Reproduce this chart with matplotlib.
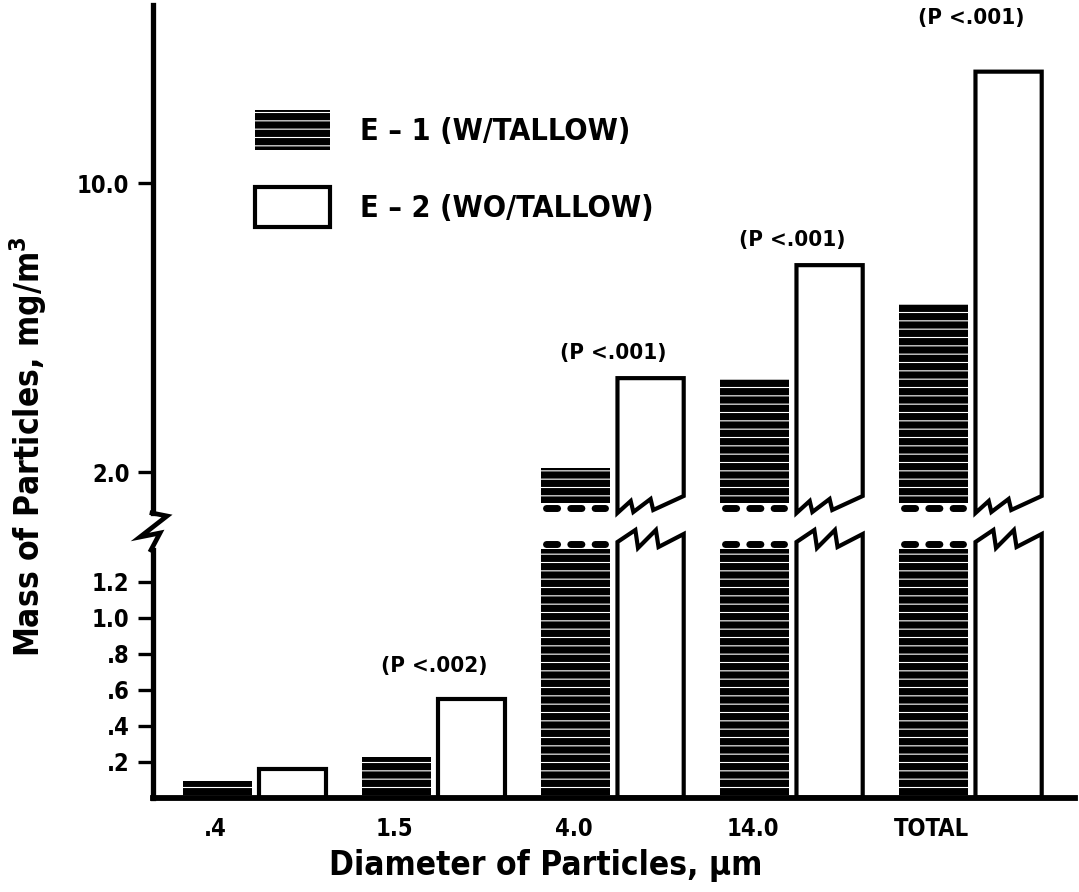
import matplotlib
matplotlib.use('Agg')
import matplotlib.pyplot as plt
from matplotlib.patches import Patch, Polygon
from matplotlib.lines import Line2D
from matplotlib import font_manager as fm

# ---------------- data ----------------
categories = ['.4', '1.5', '4.0', '14.0', 'TOTAL']
e1_values = [0.093, 0.223, 2.10, 4.58, 6.65]     # E-1 (W/TALLOW)
e2_values = [0.158, 0.545, 4.60, 7.73, 13.09]    # E-2 (WO/TALLOW)
p_labels = [None, '(P <.002)', '(P <.001)', '(P <.001)', '(P <.001)']
lower_ticks = [0.2, 0.4, 0.6, 0.8, 1.0, 1.2]
lower_ticklabels = ['.2', '.4', '.6', '.8', '1.0', '1.2']
upper_ticks = [2.0, 10.0]
upper_ticklabels = ['2.0', '10.0']
legend_labels = ['E \u2013 1 (W/TALLOW)', 'E \u2013 2 (WO/TALLOW)']

# ---------------- fonts ----------------
names = {f.name for f in fm.fontManager.ttflist}
if 'Liberation Sans Narrow' in names:
    FAM = 'Liberation Sans Narrow'
    STRETCH = 'normal'
else:
    FAM = 'DejaVu Sans'
    STRETCH = 'condensed'
plt.rcParams['font.family'] = [FAM, 'DejaVu Sans']
plt.rcParams['font.weight'] = 'bold'
plt.rcParams['font.stretch'] = STRETCH
plt.rcParams['mathtext.fontset'] = 'custom'
plt.rcParams['mathtext.rm'] = FAM + ':bold'
plt.rcParams['mathtext.bf'] = FAM + ':bold'
plt.rcParams['hatch.linewidth'] = 0.8

W, H = 1079, 892
fig = plt.figure(figsize=(W / 100, H / 100), dpi=100)

def fx(px):
    return px / W

def fy(py):
    return 1 - py / H

# pixel scales
LO_ZERO, LO_SCALE = 797.5, 180.0      # lower panel: px of 0, px per unit
UP_REF, UP_SCALE = 472.0, 36.1         # upper panel: px of 2.0, px per unit

def lo_val(py):
    return (LO_ZERO - py) / LO_SCALE

def up_val(py):
    return 2.0 + (UP_REF - py) / UP_SCALE

AX_L, AX_R = 153, 1075
LO_TOP = 540
UP_BOT, UP_TOP = 513, 5
GX0, GSTEP = 255, 179

ax_lo = fig.add_axes([fx(AX_L), fy(LO_ZERO), fx(AX_R) - fx(AX_L), (LO_ZERO - LO_TOP) / H])
ax_up = fig.add_axes([fx(AX_L), fy(UP_BOT), fx(AX_R) - fx(AX_L), (UP_BOT - UP_TOP) / H])

xlim = ((AX_L - GX0) / GSTEP, (AX_R - GX0) / GSTEP)
for ax in (ax_lo, ax_up):
    ax.set_xlim(*xlim)
    ax.set_facecolor('none')
    for s in ('top', 'right'):
        ax.spines[s].set_visible(False)
    ax.spines['left'].set_linewidth(3.8)
    ax.tick_params(axis='y', direction='out', length=11, width=2.4, pad=6,
                   labelsize=17)
ax_lo.set_ylim(0, lo_val(LO_TOP))
ax_up.set_ylim(up_val(UP_BOT), up_val(UP_TOP))
ax_up.spines['bottom'].set_visible(False)
ax_up.set_xticks([])
ax_lo.spines['bottom'].set_linewidth(4.2)
ax_lo.spines['left'].set_bounds(0, lo_val(550))

ax_lo.set_yticks(lower_ticks)
ax_lo.set_yticklabels(lower_ticklabels)
ax_up.set_yticks(upper_ticks)
ax_up.set_yticklabels(upper_ticklabels)

x = list(range(len(categories)))
ax_lo.set_xticks([i - 0.22 for i in x])
ax_lo.set_xticklabels(categories)
ax_lo.tick_params(axis='x', length=0, pad=14, labelsize=17)

BW = 0.39
OFF = 0.21
lo_top_val = lo_val(LO_TOP)

def e1_bar(ax, xc, h, bottom=0):
    ax.bar(xc, h, BW, bottom=bottom, color='black', edgecolor='white',
           hatch='--', linewidth=0, zorder=2)

def e2_poly(ax, pts):
    ax.add_patch(Polygon(pts, closed=True, facecolor='white', edgecolor='black',
                         linewidth=3.0, joinstyle='miter', zorder=2, clip_on=False))

BLOB = dict(color='black', lw=5, linestyle=(0, (1.6, 1.9)),
            dash_capstyle='round', zorder=3, clip_on=False)

for i, (v1, v2) in enumerate(zip(e1_values, e2_values)):
    x1 = i - OFF
    x2 = i + OFF
    if v2 <= lo_top_val:
        e1_bar(ax_lo, x1, v1)
        ax_lo.bar(x2, v2, BW - 0.02, color='white', edgecolor='black',
                  linewidth=3.0, zorder=2)
    else:
        # lower (broken) part
        e1_bar(ax_lo, x1, lo_val(549))
        ax_lo.plot([x1 - BW / 2 + 0.03, x1 + BW / 2 - 0.03], [lo_val(544)] * 2, **BLOB)
        a, b = x2 - BW / 2 + 0.01, x2 + BW / 2 - 0.01
        w = b - a
        top_lo = [(a, lo_val(542)), (a + 0.27 * w, lo_val(530)), (a + 0.31 * w, lo_val(548)),
                  (a + 0.58 * w, lo_val(530)), (a + 0.62 * w, lo_val(547)), (b, lo_val(534))]
        e2_poly(ax_lo, [(a, 0)] + top_lo + [(b, 0)])
        # upper part
        base = up_val(503)
        if v1 > base:
            e1_bar(ax_up, x1, v1 - base, bottom=base)
        ax_up.plot([x1 - BW / 2 + 0.03, x1 + BW / 2 - 0.03], [up_val(508)] * 2, **BLOB)
        bot_up = [(b, up_val(496)), (a + 0.54 * w, up_val(510)), (a + 0.50 * w, up_val(499)),
                  (a + 0.24 * w, up_val(512)), (a + 0.20 * w, up_val(501)), (a, up_val(513))]
        e2_poly(ax_up, [(a, v2), (b, v2)] + bot_up)

# significance labels
p_offsets = [0, 33, 25, 25, 54]
for i, (lab, v2) in enumerate(zip(p_labels, e2_values)):
    if lab is None:
        continue
    ax = ax_lo if v2 <= lo_top_val else ax_up
    ax.annotate(lab, xy=(i, v2), xytext=(0, p_offsets[i]), textcoords='offset pixels',
                ha='center', va='center', fontsize=16, fontweight='bold',
                annotation_clip=False)

# axis break zigzag on the y axis
zz_x = [152, 167, 140, 160, 151]
zz_y = [513, 516, 537, 533, 550]
fig.add_artist(Line2D([fx(v) for v in zz_x], [fy(v) for v in zz_y],
                      transform=fig.transFigure, color='black', lw=3.4,
                      solid_joinstyle='miter'))

# legend
handles = [Patch(facecolor='black', edgecolor='white', hatch='--', linewidth=0),
           Patch(facecolor='white', edgecolor='black', linewidth=3.0)]
leg = ax_up.legend(handles, legend_labels, loc='upper left',
                   bbox_to_anchor=(fx(255), fy(110)), bbox_transform=fig.transFigure,
                   frameon=False, borderpad=0, borderaxespad=0,
                   handlelength=2.45, handleheight=1.65, handletextpad=1.0,
                   labelspacing=1.2, prop={'size': 22, 'weight': 'bold'})

# axis titles
fig.text(fx(28), fy(447), r'Mass of Particles, mg/m$^{3}$', rotation=90,
         ha='center', va='center', fontsize=24, fontweight='bold')
fig.text(fx(546), fy(866), 'Diameter of Particles, \u03bcm', ha='center', va='center',
         fontsize=24, fontweight='bold')

fig.savefig('out.png', dpi=100)
